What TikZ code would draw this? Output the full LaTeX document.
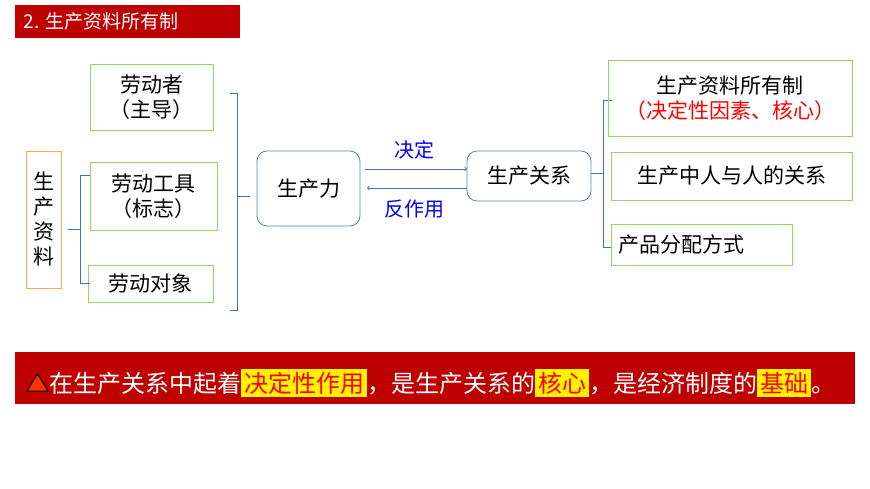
\documentclass[tikz,border=0pt]{standalone}
\usepackage{fontspec}
\setmainfont{Noto Sans CJK SC}
\newfontfamily\cjk{Noto Sans CJK SC}
\begin{document}
\begin{tikzpicture}[x=1pt,y=-1pt,
  gbox/.style={draw=green!50!olive!60,line width=0.8pt,inner sep=0},
  rbox/.style={draw=blue!45!cyan!60!black!70,rounded corners=10pt,line width=0.8pt},
  br/.style={draw=blue!60!cyan!50!gray,line width=0.8pt},
  t/.style={font=\fontsize{21}{25}\selectfont,align=center}]
\useasboundingbox (0,0) rectangle (870,489);
\fill[red!75!black] (15,5) rectangle (240,38);
\node[anchor=west,text=white,font=\fontsize{19}{22}\selectfont] (title) at (20,21.5) {2. 生产资料所有制};
% left
\draw[draw=orange!70,line width=0.8pt] (26,151) rectangle (61,288);
\node[t,text width=24pt] (sczl) at (43.5,219.5) {生\\产\\资\\料};
\draw[gbox] (90,64) rectangle (213,130);
\node[t] (ldz) at (151.5,97) {劳动者\\（主导）};
\draw[gbox] (90,162) rectangle (217,230);
\node[t] (ldgj) at (153.5,196) {劳动工具\\（标志）};
\draw[gbox] (88,265) rectangle (213,302);
\node[t] (lddx) at (150.5,283.5) {劳动对象};
\coordinate (b1) at (68,229);
\draw[br] (b1) -- (80,229) (90,175) -- (80,175) -- (80,283) -- (90,283);
\draw[br] (230,93) -- (237,93) -- (237,310) -- (230,310) (237,196) -- (250,196);
% center
\draw[rbox] (257,151) rectangle (360,226);
\node[t] (scl) at (308.5,188.5) {生产力};
\draw[rbox] (467,151) rectangle (591,201);
\node[t] (scgx) at (529,176) {生产关系};
\coordinate (a1) at (365,169); \coordinate (a2) at (467,169);
\coordinate (c1) at (467,188); \coordinate (c2) at (367,188);
\draw[br,->] (a1) -- (a2);
\draw[br,->] (c1) -- (c2);
\node[text=blue,font=\fontsize{20}{24}\selectfont] (jd) at (414,150) {决定};
\node[text=blue,font=\fontsize{20}{24}\selectfont] (fzy) at (414,209) {反作用};
% right
\draw[br] (591,173) -- (603,173) (612,100) -- (603,100) -- (603,247) -- (612,247);
\draw[gbox] (608,60) rectangle (852,136);
\node[t] (r1) at (730,98) {生产资料所有制\\\textcolor{red}{（决定性因素、核心）}};
\draw[gbox] (611,152) rectangle (852,200);
\node[t] (r2) at (731.5,176) {生产中人与人的关系};
\draw[gbox] (611,224) rectangle (792,265);
\node[t,anchor=west] (r3) at (615,244.5) {产品分配方式};
% banner
\fill[red!75!black] (15,352) rectangle (855,404);
\filldraw[fill=orange!40!red,draw=black,line width=1pt] (27,391) -- (37.5,374) -- (48,391) -- cycle;
\node[anchor=west,inner sep=0,text=white,font=\fontsize{24}{28}\selectfont] (bn) at (49,383)
{在生产关系中起着\colorbox{yellow}{\textcolor{red}{决定性作用}}，是生产关系的\colorbox{yellow}{\textcolor{red}{核心}}，是经济制度的\colorbox{yellow}{\textcolor{red}{基础}}。};
\end{tikzpicture}
\end{document}
